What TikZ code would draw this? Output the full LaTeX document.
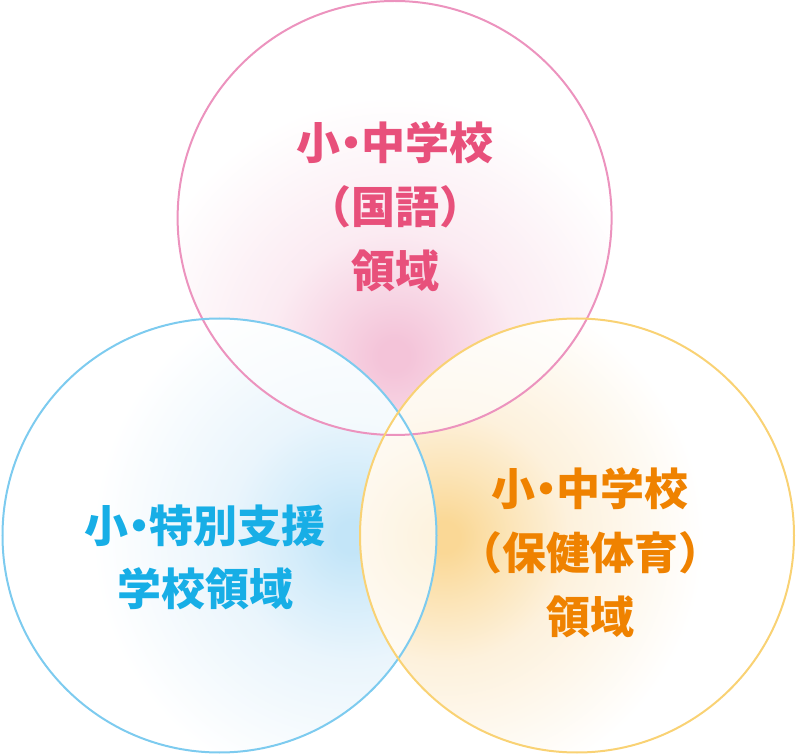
\documentclass[tikz,border=0pt]{standalone}
\usepackage{fontspec}
\newfontfamily\jpfont{Noto Sans CJK JP}
\usepackage{tikz}
\usetikzlibrary{positioning}

\definecolor{pinkline}{HTML}{EC93BE}
\definecolor{blueline}{HTML}{7DCBEF}
\definecolor{orangeline}{HTML}{F9D274}
\definecolor{pinktext}{HTML}{E8507B}
\definecolor{bluetext}{HTML}{17AEE6}
\definecolor{orangetext}{HTML}{EF8200}
\definecolor{pinkpeak}{HTML}{F4C4D9}
\definecolor{pinktint}{HTML}{FBEBF2}
\definecolor{bluepeak}{HTML}{C3E5F8}
\definecolor{bluetint}{HTML}{EAF5FC}
\definecolor{orangepeak}{HTML}{FAD896}
\definecolor{orangetint}{HTML}{FDF1DC}

\pgfdeclareradialshading{glowpink}{\pgfpoint{0bp}{0bp}}{color(0bp)=(pinkpeak); color(1.5bp)=(pinkpeak); color(6bp)=(pinkpeak!70!white); color(12bp)=(pinktint); color(25bp)=(white); color(50bp)=(white)}
\pgfdeclareradialshading{glowblue}{\pgfpoint{0bp}{0bp}}{color(0bp)=(bluepeak); color(1.5bp)=(bluepeak); color(6bp)=(bluepeak!70!white); color(12bp)=(bluetint); color(25bp)=(white); color(50bp)=(white)}
\pgfdeclareradialshading{gloworange}{\pgfpoint{0bp}{0bp}}{color(0bp)=(orangepeak); color(1.5bp)=(orangepeak); color(6bp)=(orangepeak!70!white); color(12bp)=(orangetint); color(25bp)=(white); color(50bp)=(white)}

% narrow middle dot
\newcommand{\middot}{\kern-0.27em・\kern-0.27em}

\begin{document}
\begin{tikzpicture}[
    x=0.75pt, y=-0.75pt,
    ring/.style={line width=1.5pt},
    label/.style={align=center, font=\jpfont\bfseries\fontsize{33pt}{48pt}\selectfont},
  ]
    \useasboundingbox (0,0) rectangle (800,755);
    \def\rad{162.75pt}

    % ── Centres of the three areas ──────────────────────────
    \coordinate (kokugo) at (394.6,218);
    \coordinate (tokubetsu) at (219.5,535.5);
    \coordinate (hoken) at (577,535.5);

    % ── Soft glows inside each circle ───────────────────────
    \begin{scope}
      \clip (kokugo) circle (\rad);
      \shade[shading=glowpink] (394,356) circle (195pt);
    \end{scope}
    \begin{scope}
      \clip (tokubetsu) circle (\rad);
      \shade[shading=glowblue] (352,537) circle (195pt);
    \end{scope}
    \begin{scope}
      \clip (hoken) circle (\rad);
      \shade[shading=gloworange] (444,537) circle (195pt);
    \end{scope}

    % ── Lighter overlaps ────────────────────────────────────
    \begin{scope}
      \clip (tokubetsu) circle (\rad);
      \clip (hoken) circle (\rad);
      \fill[white, opacity=0.7] (300,300) rectangle (500,755);
    \end{scope}
    \begin{scope}
      \clip (kokugo) circle (\rad);
      \clip (tokubetsu) circle (\rad);
      \fill[white, opacity=0.55] (150,300) rectangle (450,440);
    \end{scope}
    \begin{scope}
      \clip (kokugo) circle (\rad);
      \clip (hoken) circle (\rad);
      \fill[white, opacity=0.55] (350,300) rectangle (650,440);
    \end{scope}

    % ── Outlines ────────────────────────────────────────────
    \draw[ring, pinkline] (kokugo) circle (\rad);
    \draw[ring, blueline] (tokubetsu) circle (\rad);
    \draw[ring, orangeline] (hoken) circle (\rad);

    % ── Labels ──────────────────────────────────────────────
    \node[label, text=pinktext] (kokugotext) at (395,207) {小\middot 中学校\\（国語）\\領域};
    \node[label, text=bluetext, font=\jpfont\bfseries\fontsize{33pt}{47pt}\selectfont]
      (tokubetsutext) at (205,557) {小\middot 特別支援\\学校領域};
    \node[label, text=orangetext] (hokentext) at (590,553) {小\middot 中学校\\（保健体育）\\領域};
  \end{tikzpicture}
\end{document}
